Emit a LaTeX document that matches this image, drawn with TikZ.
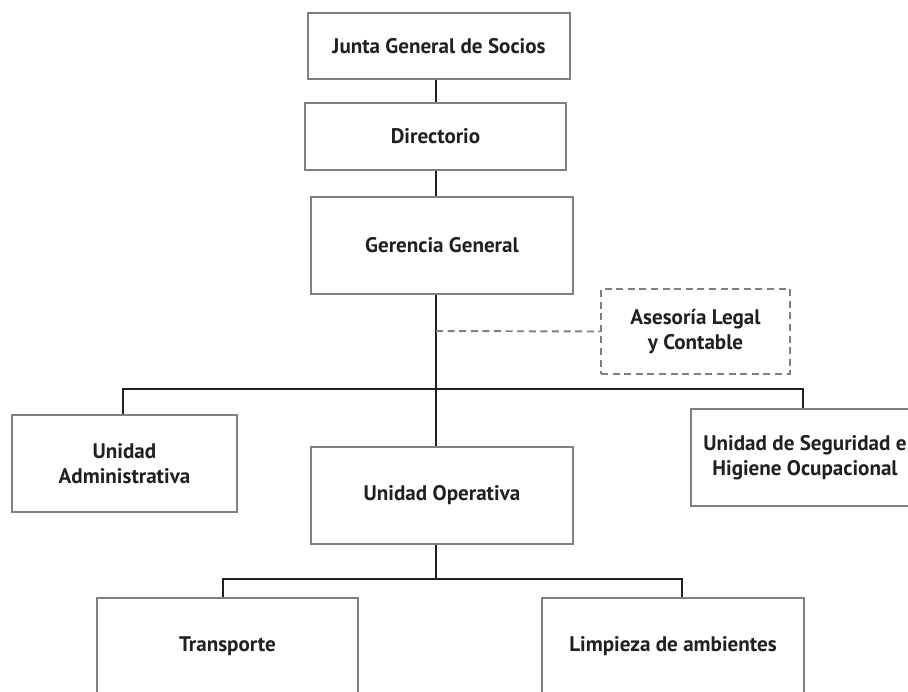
\documentclass[tikz,border=0pt]{standalone}
\usepackage{fontspec}
\setmainfont{PT Sans}
\usepackage{tikz}
\usepackage{xcolor}
\usetikzlibrary{positioning, calc}
\definecolor{orgTexto}{RGB}{35, 31, 32}
\definecolor{orgBorde}{RGB}{128, 128, 128}
\definecolor{orgLinea}{RGB}{35, 31, 32}

\begin{document}
\begin{tikzpicture}[x=0.02cm, y=-0.02cm]
    \tikzstyle{caja} = [rectangle, draw=orgBorde, line width=1.1pt, fill=white, text=orgTexto, align=center, font=\fontsize{12}{14.2}\selectfont\bfseries, inner sep=0pt]
    \tikzstyle{asesor} = [caja, dashed, dash pattern=on 4pt off 2.6pt]
    \tikzstyle{linea} = [orgLinea, line width=0.8pt]
    \tikzstyle{lineaAsesor} = [orgBorde, line width=1.1pt, dash pattern=on 4pt off 2.6pt]

    \path[use as bounding box, clip] (0,0) rectangle (908,691);

    % cajas
    \node[caja, minimum width=5.24cm, minimum height=1.32cm] (junta) at (439,46) {Junta General de Socios};
    \node[caja, minimum width=5.22cm, minimum height=1.34cm] (directorio) at (435.5,136.5) {Directorio};
    \node[caja, minimum width=5.24cm, minimum height=1.94cm] (gerencia) at (442,245.5) {Gerencia General};
    \node[asesor, minimum width=3.78cm, minimum height=1.70cm] (asesoria) at (695.5,331.5) {Asesoría Legal\\y Contable};
    \node[caja, minimum width=4.50cm, minimum height=1.94cm] (admin) at (124.5,463.5) {Unidad\\Administrativa};
    \node[caja, minimum width=5.24cm, minimum height=1.94cm] (operativa) at (442,495.5) {Unidad Operativa};
    \node[caja, minimum width=4.56cm, minimum height=1.94cm] (seguridad) at (805,457.5) {Unidad de Seguridad e\\Higiene Ocupacional};
    \node[caja, minimum width=5.22cm, minimum height=1.94cm] (transporte) at (227.5,646.5) {Transporte};
    \node[caja, minimum width=5.24cm, minimum height=1.94cm] (limpieza) at (673,646.5) {Limpieza de ambientes};

    % puntos de enlace
    \coordinate (eje) at (436,0);
    \coordinate (barraUnidades) at (0,389);
    \coordinate (barraOperativa) at (0,579);
    \coordinate (enlaceAsesor) at (436,331);
    \coordinate (bajadaAdmin) at (123,0);
    \coordinate (bajadaSeguridad) at (803,0);
    \coordinate (bajadaTransporte) at (223,0);
    \coordinate (bajadaLimpieza) at (682,0);

    % conectores
    \draw[linea] (junta.south -| eje) -- (directorio.north -| eje);
    \draw[linea] (directorio.south -| eje) -- (gerencia.north -| eje);
    \draw[linea] (gerencia.south -| eje) -- (operativa.north -| eje);
    \draw[lineaAsesor] (enlaceAsesor) -- (asesoria.west);
    \draw[linea] (admin.north -| bajadaAdmin) |- (barraUnidades -| eje);
    \draw[linea] (seguridad.north -| bajadaSeguridad) |- (barraUnidades -| eje);
    \draw[linea] (operativa.south -| eje) -- (barraOperativa -| eje);
    \draw[linea] (transporte.north -| bajadaTransporte) |- (barraOperativa -| eje);
    \draw[linea] (limpieza.north -| bajadaLimpieza) |- (barraOperativa -| eje);
\end{tikzpicture}
\end{document}
